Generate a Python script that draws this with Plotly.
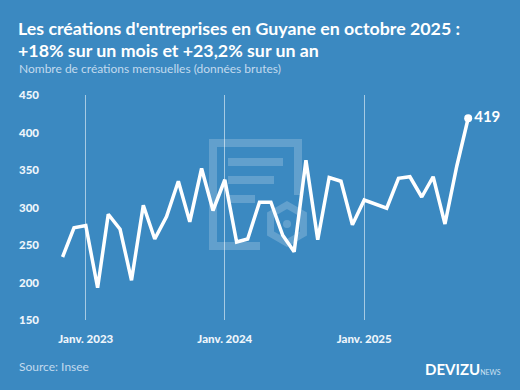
import math
import plotly.graph_objects as go

months = ["2022-11-01", "2022-12-01",
          "2023-01-01", "2023-02-01", "2023-03-01", "2023-04-01", "2023-05-01", "2023-06-01",
          "2023-07-01", "2023-08-01", "2023-09-01", "2023-10-01", "2023-11-01", "2023-12-01",
          "2024-01-01", "2024-02-01", "2024-03-01", "2024-04-01", "2024-05-01", "2024-06-01",
          "2024-07-01", "2024-08-01", "2024-09-01", "2024-10-01", "2024-11-01", "2024-12-01",
          "2025-01-01", "2025-02-01", "2025-03-01", "2025-04-01", "2025-05-01", "2025-06-01",
          "2025-07-01", "2025-08-01", "2025-09-01", "2025-10-01"]
creations = [234, 273,
             276, 193, 291, 271, 203, 303, 258, 288, 335, 281, 352, 296,
             337, 254, 258, 307, 307, 263, 241, 363, 257, 340, 335, 277,
             310, 304, 299, 339, 341, 314, 341, 278, 355, 419]
tick_dates = ["2023-01-01", "2024-01-01", "2025-01-01"]
tick_labels = ["Janv. 2023", "Janv. 2024", "Janv. 2025"]
y_ticks = [150, 200, 250, 300, 350, 400, 450]
title_lines = ["Les créations d'entreprises en Guyane en octobre 2025 :",
               "+18% sur un mois et +23,2% sur un an"]

BG = "#3b89c1"
W, H = 520, 390
L, R, T, B = 50, 40, 95, 70
PW, PH = W - L - R, H - T - B
FONT = "Lato"

def px(x):
    return (x - L) / PW

def py(y):
    return (H - B - y) / PH

fig = go.Figure()
fig.add_trace(go.Scatter(x=months, y=creations, mode="lines",
                         line=dict(color="white", width=3.5), hoverinfo="skip"))
fig.add_trace(go.Scatter(x=[months[-1]], y=[creations[-1]], mode="markers+text",
                         marker=dict(color="white", size=8), cliponaxis=False,
                         text=[f"<b>{creations[-1]}</b>"], textposition="middle right",
                         textfont=dict(color="white", size=15, family=FONT),
                         hoverinfo="skip"))

# faint watermark logo (decoration)
wm = "rgba(255,255,255,0.2)"
shapes = []
for (x0, x1, y0, y1) in [(209, 302, 139, 147), (209, 217, 147, 250), (217, 260, 242, 250),
                         (294, 302, 147, 195), (228, 283, 158, 166), (228, 274, 176, 184),
                         (228, 255, 195, 203)]:
    shapes.append(dict(type="rect", xref="paper", yref="paper", layer="below",
                       x0=px(x0), x1=px(x1), y0=py(y1), y1=py(y0),
                       fillcolor=wm, line=dict(width=0)))
cx, cy, r = 287, 224, 19
pts = []
for k in range(6):
    a = math.radians(90 + 60 * k)
    pts.append((px(cx + r * math.cos(a)), py(cy - r * math.sin(a))))
path = "M " + " L ".join(f"{a:.5f},{b:.5f}" for a, b in pts) + " Z"
shapes.append(dict(type="path", xref="paper", yref="paper", layer="below", path=path,
                   line=dict(color=wm, width=7), fillcolor="rgba(0,0,0,0)"))
shapes.append(dict(type="circle", xref="paper", yref="paper", layer="below",
                   x0=px(cx - 4), x1=px(cx + 4), y0=py(cy + 4), y1=py(cy - 4),
                   fillcolor=wm, line=dict(width=0)))

annotations = [
    dict(text=f"<b>{title_lines[0]}</b>", xref="paper", yref="paper",
         x=px(16), y=py(28), xanchor="left", yanchor="middle", showarrow=False,
         font=dict(size=17.8, color="white", family=FONT)),
    dict(text=f"<b>{title_lines[1]}</b>", xref="paper", yref="paper",
         x=px(16), y=py(50), xanchor="left", yanchor="middle", showarrow=False,
         font=dict(size=17.8, color="white", family=FONT)),
    dict(text="Nombre de créations mensuelles (données brutes)", xref="paper", yref="paper",
         x=px(17), y=py(69), xanchor="left", yanchor="middle", showarrow=False,
         font=dict(size=12, color="#c2daee", family=FONT)),
    dict(text="Source: Insee", xref="paper", yref="paper",
         x=px(17), y=py(366), xanchor="left", yanchor="middle", showarrow=False,
         font=dict(size=12, color="#c2daee", family=FONT)),
    dict(text="<b>DEVIZU</b><span style='font-size:7px;color:#cfe2f2'>NEWS</span>",
         xref="paper", yref="paper",
         x=px(503), y=py(369), xanchor="right", yanchor="middle", showarrow=False,
         font=dict(size=15, color="white", family=FONT)),
]

fig.update_layout(
    width=W, height=H, paper_bgcolor=BG, plot_bgcolor=BG,
    margin=dict(l=L, r=R, t=T, b=B),
    showlegend=False,
    xaxis=dict(type="date", range=["2022-09-29", "2025-11-01"],
               tickvals=tick_dates, ticktext=tick_labels, showgrid=True,
               gridcolor="rgba(255,255,255,0.55)", gridwidth=1, zeroline=False,
               showline=False, ticks="", ticklabelstandoff=10,
               tickfont=dict(size=11.5, color="#eef5fb", family=FONT + " Black")),
    yaxis=dict(range=[150, 450], tickvals=y_ticks, showgrid=False, zeroline=False,
               showline=False, ticks="", ticklabelstandoff=10,
               tickfont=dict(size=11.5, color="#eef5fb", family=FONT + " Black")),
    shapes=shapes, annotations=annotations,
)
fig.write_html("out.html", config={"displayModeBar": False},
               post_script="document.body.style.margin='0';document.body.style.background='" + BG + "';")
